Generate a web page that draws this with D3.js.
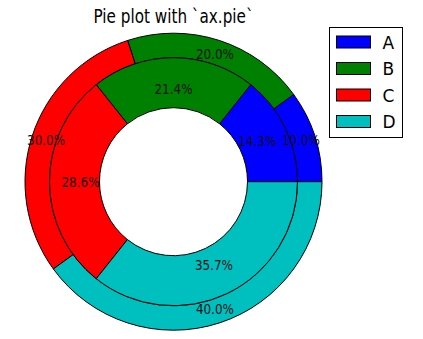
<!DOCTYPE html>
<html>
<head>
<meta charset="utf-8">
<script src="https://cdn.jsdelivr.net/npm/d3@7"></script>
<style>
  body { margin: 0; background: #fff; }
  text { font-family: "DejaVu Sans", sans-serif; }
</style>
</head>
<body>
<div class="chart"></div>
<script>
// values
var categories = ["A", "B", "C", "D"];
var outerValues = [10.0, 20.0, 30.0, 40.0];
var innerValues = [14.3, 21.4, 28.6, 35.7];
var colors = ["#0000ff", "#008000", "#ff0000", "#00bfbf"];

var width = 423, height = 339;
var cx = 173.5, cy = 181.7;
var rOuter = 148.5, rMid = 124, rHole = 74;

var svg = d3.select(".chart").append("svg")
    .attr("width", width)
    .attr("height", height);

var color = d3.scaleOrdinal().domain(categories).range(colors);

// matplotlib starts at 3 o'clock and goes counterclockwise
var pie = d3.pie().sort(null).value(function(d) { return d.v; })
    .startAngle(Math.PI / 2)
    .endAngle(Math.PI / 2 - 2 * Math.PI);

function rows(vals) {
    return categories.map(function(c, i) { return {cat: c, v: vals[i]}; });
}

var fmt = d3.format(".1f");

var wedges = svg.append("g").attr("transform", "translate(" + cx + "," + cy + ")");
var labels = svg.append("g").attr("transform", "translate(" + cx + "," + cy + ")");

function ring(vals, r0, r1, rLabel) {
    var arcs = pie(rows(vals));
    var total = d3.sum(vals);
    var arc = d3.arc().innerRadius(r0).outerRadius(r1);
    var g = wedges.append("g");
    g.selectAll("path").data(arcs).enter().append("path")
        .attr("d", arc)
        .attr("fill", function(d) { return color(d.data.cat); })
        .attr("stroke", "#000")
        .attr("stroke-width", 1);
    return {arcs: arcs, total: total, rLabel: rLabel};
}

var outer = ring(outerValues, rMid, rOuter, 134);
var inner = ring(innerValues, rHole, rMid, 93);

// percentage labels drawn after both rings so they sit on top
[outer, inner].forEach(function(rg) {
    labels.append("g").selectAll("text").data(rg.arcs).enter().append("text")
        .attr("x", function(d) { return rg.rLabel * Math.sin((d.startAngle + d.endAngle) / 2); })
        .attr("y", function(d) { return -rg.rLabel * Math.cos((d.startAngle + d.endAngle) / 2); })
        .attr("dy", "0.36em")
        .attr("text-anchor", "middle")
        .attr("font-size", 14)
        .attr("textLength", 38)
        .attr("lengthAdjust", "spacingAndGlyphs")
        .attr("fill", "#111")
        .text(function(d) { return fmt(d.data.v / rg.total * 100) + "%"; });
});

// title
svg.append("text")
    .attr("x", cx)
    .attr("y", 22.5)
    .attr("text-anchor", "middle")
    .attr("font-size", 19)
    .attr("textLength", 160)
    .attr("lengthAdjust", "spacingAndGlyphs")
    .text("Pie plot with `ax.pie`");

// legend
var legend = svg.append("g").attr("transform", "translate(329.5,27.5)");
legend.append("rect")
    .attr("width", 73).attr("height", 110)
    .attr("fill", "#fff").attr("stroke", "#000").attr("stroke-width", 1);

var ly = d3.scalePoint().domain(categories).range([14.5, 94]);

var item = legend.selectAll("g.item").data(categories).enter().append("g")
    .attr("class", "item")
    .attr("transform", function(d) { return "translate(0," + ly(d) + ")"; });
item.append("rect")
    .attr("x", 7).attr("y", -6)
    .attr("width", 34).attr("height", 12)
    .attr("fill", function(d) { return color(d); })
    .attr("stroke", "#000").attr("stroke-width", 1);
item.append("text")
    .attr("x", 53).attr("y", 6.5)
    .attr("font-size", 17)
    .text(function(d) { return d; });
</script>
</body>
</html>
